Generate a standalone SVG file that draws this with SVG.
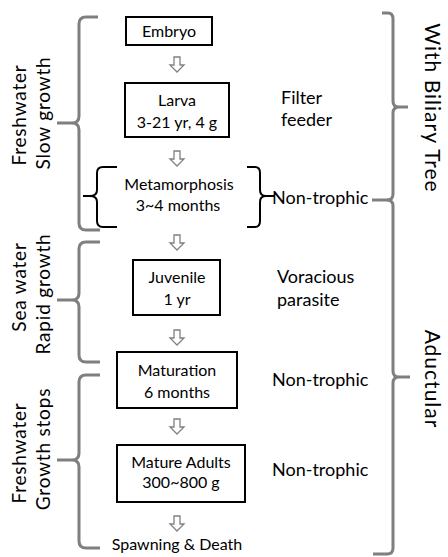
<svg xmlns="http://www.w3.org/2000/svg" xmlns:xlink="http://www.w3.org/1999/xlink" width="448" height="557" viewBox="0 0 448 557">
<style>
  .box{fill:#fff;stroke:#000;stroke-width:2}
  .t{font-family:Lato,"Open Sans","Liberation Sans",sans-serif;fill:#000}
  .bt{font-size:16px;text-anchor:middle}
  .rt{font-size:18px}
  .side{font-size:19px;text-anchor:middle;letter-spacing:0.8px}
  .big{font-size:21px;text-anchor:middle;letter-spacing:1px}
  .gb{fill:none;stroke:#7f7f7f;stroke-width:3;stroke-linejoin:round}
  .kb{fill:none;stroke:#000;stroke-width:2;stroke-linejoin:round}
  .arr{fill:#fff;stroke:#808080;stroke-width:1.3}
</style>
<defs>
  <path id="arrow" class="arr" d="M-3,0 H3 V8 H7 L0,15 L-7,8 H-3 Z"/>
</defs>
<rect width="448" height="557" fill="#fff"/>

<g id="connectors">
  <use xlink:href="#arrow" x="177" y="57"/>
  <use xlink:href="#arrow" x="177" y="151"/>
  <use xlink:href="#arrow" x="177" y="235"/>
  <use xlink:href="#arrow" x="177" y="330"/>
  <use xlink:href="#arrow" x="177" y="419"/>
  <use xlink:href="#arrow" x="177" y="516"/>
</g>

<g id="brace-left-1"><path class="gb" d="M98,17 H86 Q79,17 79,24 V116 Q79,123 72,123 H57 M72,123 Q79,123 79,130 V223 Q79,230 86,230 H100"/>
  <text class="t side" transform="translate(26,115) rotate(-90)">Freshwater</text>
  <text class="t side" transform="translate(50,113) rotate(-90)">Slow growth</text>
</g>
<g id="brace-left-2"><path class="gb" d="M100,242 H86 Q79,242 79,249 V293 Q79,300 72,300 H57 M72,300 Q79,300 79,307 V355 Q79,362 86,362 H100"/>
  <text class="t side" transform="translate(26,287) rotate(-90)">Sea water</text>
  <text class="t side" transform="translate(50,294) rotate(-90)">Rapid growth</text>
</g>
<g id="brace-left-3"><path class="gb" d="M100,375 H86 Q79,375 79,382 V453 Q79,460 72,460 H57 M72,460 Q79,460 79,467 V541 Q79,548 86,548 H100"/>
  <text class="t side" transform="translate(26,453) rotate(-90)">Freshwater</text>
  <text class="t side" transform="translate(50,449) rotate(-90)">Growth stops</text>
</g>

<g id="brace-right-1"><path class="gb" d="M382,13 H388 Q393,13 393,19 V101 Q393,107 399,107 H408 M399,107 Q393,107 393,113 V194 Q393,200 387,200 H372"/>
  <text class="t big" transform="translate(425,108) rotate(90)">With Biliary Tree</text>
</g>
<g id="brace-right-2"><path class="gb" d="M387,200 Q393,200 393,206 V371 Q393,377 399,377 H410 M399,377 Q393,377 393,383 V548 Q393,554 387,554 H373"/>
  <text class="t big" transform="translate(425,379) rotate(90)">Aductular</text>
</g>

<g id="embryo"><rect class="box" x="126" y="17" width="86" height="28"/>
  <text class="t bt" x="169" y="37">Embryo</text></g>
<g id="larva"><rect class="box" x="125" y="83" width="104" height="54"/>
  <text class="t bt" x="177" y="106">Larva</text>
  <text class="t bt" x="177" y="128">3-21 yr, 4 g</text></g>
<g id="filter"><text class="t rt" x="281" y="104">Filter</text>
  <text class="t rt" x="281" y="126">feeder</text></g>

<g id="metamorphosis">
  <path class="kb" d="M117,167 H103 Q97,167 97,173 V190 Q97,196 90,196 H83 M90,196 Q97,196 97,202 V221 Q97,227 103,227 H117"/>
  <path class="kb" d="M247,167 H255 Q260,167 260,173 V190 Q260,196 266,196 H274 M266,196 Q260,196 260,202 V221 Q260,227 255,227 H247"/>
  <text class="t bt" x="179" y="190">Metamorphosis</text>
  <text class="t bt" x="178" y="211">3~4 months</text></g>
<g id="nontrophic-1"><text class="t rt" x="272" y="204">Non-trophic</text></g>

<g id="juvenile"><rect class="box" x="133" y="260" width="87" height="55"/>
  <text class="t bt" x="177" y="283">Juvenile</text>
  <text class="t bt" x="177" y="305">1 yr</text></g>
<g id="voracious"><text class="t rt" x="277" y="283">Voracious</text>
  <text class="t rt" x="277" y="306">parasite</text></g>

<g id="maturation"><rect class="box" x="117" y="352" width="120" height="56"/>
  <text class="t bt" x="177" y="376">Maturation</text>
  <text class="t bt" x="177" y="398">6 months</text></g>
<g id="nontrophic-2"><text class="t rt" x="272" y="386">Non-trophic</text></g>

<g id="adults"><rect class="box" x="117" y="445" width="128" height="57"/>
  <text class="t bt" x="181" y="468">Mature Adults</text>
  <text class="t bt" x="181" y="488">300~800 g</text></g>
<g id="nontrophic-3"><text class="t rt" x="272" y="476">Non-trophic</text></g>

<g id="spawning"><text class="t bt" x="177" y="550">Spawning &amp; Death</text></g>
</svg>
